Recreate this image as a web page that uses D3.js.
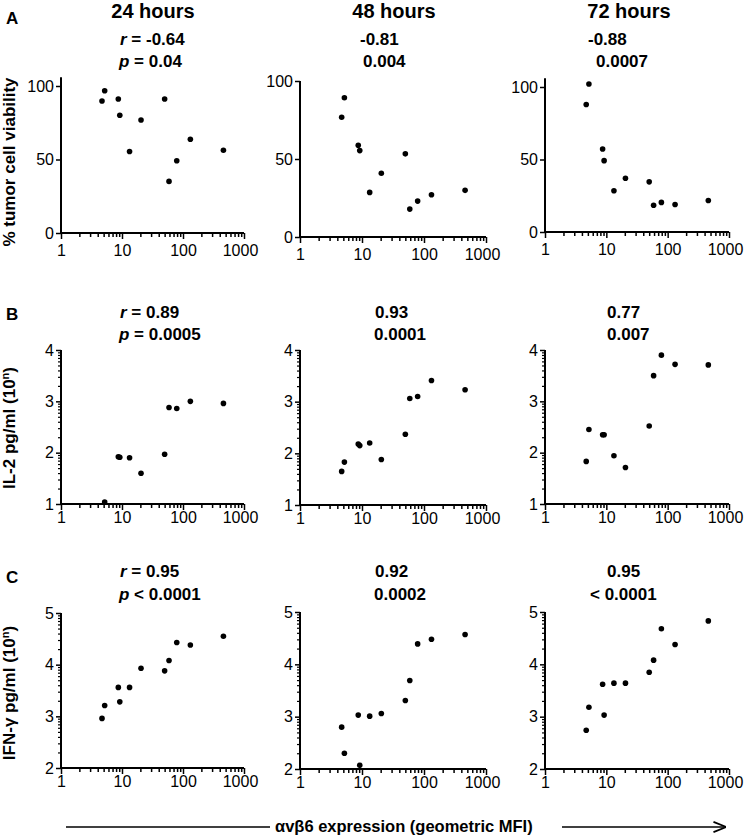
<!DOCTYPE html>
<html><head><meta charset="utf-8">
<script src="https://cdn.jsdelivr.net/npm/d3@7"></script>
<style>body{margin:0;background:#fff}svg{display:block}</style>
</head><body><svg id="chart" width="744" height="839"></svg>
<script>
// ---------- data ----------
const xValues = [4.7, 5.2, 8.7, 9.2, 13.3, 20.5, 50, 59, 79, 132, 460];
const timepoints = ["24 hours", "48 hours", "72 hours"];
const rowLetters = ["A", "B", "C"];

const viability24 = [89.8, 96.8, 91.2, 80.1, 55.4, 76.9, 91.2, 35.1, 49.1, 63.8, 56.3];
const viability48 = [76.8, 89.3, 58.8, 55.4, 28.6, 40.9, 53.3, 17.9, 23.0, 27.1, 29.9];
const viability72 = [87.9, 102.1, 57.2, 49.2, 28.4, 37.1, 34.6, 18.5, 20.4, 19.0, 21.7];
const il2_24 = [null, 1.04, 1.92, 1.91, 1.90, 1.60, 1.97, 2.88, 2.86, 3.00, 2.96];
const il2_48 = [1.65, 1.83, 2.18, 2.15, 2.20, 1.88, 2.37, 3.06, 3.10, 3.41, 3.23];
const il2_72 = [1.83, 2.45, 2.35, 2.35, 1.94, 1.71, 2.52, 3.50, 3.90, 3.72, 3.71];
const ifng24 = [2.96, 3.21, 3.56, 3.28, 3.56, 3.93, 3.88, 4.08, 4.43, 4.38, 4.55];
const ifng48 = [2.80, 2.30, 3.03, 2.07, 3.01, 3.06, 3.31, 3.69, 4.39, 4.48, 4.57];
const ifng72 = [2.74, 3.18, 3.62, 3.03, 3.64, 3.64, 3.85, 4.08, 4.68, 4.38, 4.83];

const rValues = [["-0.64", "-0.81", "-0.88"], ["0.89", "0.93", "0.77"], ["0.95", "0.92", "0.95"]];
const pValues = [["0.04", "0.004", "0.0007"], ["0.0005", "0.0001", "0.007"], ["0.0001", "0.0002", "0.0001"]];
const pSigns = [["=", "=", "="], ["=", "=", "="], ["<", "=", "<"]];

const xTicks = [1, 10, 100, 1000];
const yTicksA = [0, 50, 100];
const yTicksB = [1, 2, 3, 4];
const yTicksC = [2, 3, 4, 5];
const yTitles = ["% tumor cell viability", "IL-2 pg/ml (10", "IFN-\u03b3 pg/ml (10"];
const xTitle = "\u03b1v\u03b26 expression (geometric MFI)";

const seriesGrid = [
  [viability24, viability48, viability72],
  [il2_24, il2_48, il2_72],
  [ifng24, ifng48, ifng72]
];
const yTickGrid = [yTicksA, yTicksB, yTicksC];

// ---------- layout ----------
const colX0 = [61, 300, 545];
const colX1 = [244, 486, 729];
const yDomains = [[0, 100], [1, 4], [2, 5]];
const yRanges = [
  [[233, 86], [237, 81], [232, 87]],
  [[504, 350], [505, 350], [504, 350]],
  [[768, 613], [769, 612], [769, 612]]
];
const yAxisTop = [[106, 100, 106], [4, 4, 4], [5, 5, 5]];
const statX = [
  [[120, 119], [360, 363], [588, 596]],
  [[120, 119], [375, 374], [607, 607]],
  [[120, 119], [375, 374], [607, 590]]
];
const statY = [[45, 67], [318, 340], [577, 600]];
const letterY = [24, 320, 583];
const yTitleCY = [162, 428, 693];
const titleX = [153, 394, 629];
const xLabelOffset = [24, 20, 20];

const svg = d3.select("#chart");
svg.append("rect").attr("width", 744).attr("height", 839).attr("fill", "#fff");
const FONT = "'Liberation Sans', Arial, Helvetica, sans-serif";
svg.style("font-family", FONT);

// column titles
svg.selectAll("text.coltitle").data(timepoints).join("text")
  .attr("class", "coltitle")
  .attr("x", (d, i) => titleX[i]).attr("y", 18)
  .attr("text-anchor", "middle")
  .attr("font-size", 20).attr("font-weight", "bold")
  .text(d => d);

const minorX = [];
for (let e = 0; e < 3; e++) for (let k = 2; k <= 9; k++) minorX.push(k * Math.pow(10, e));

rowLetters.forEach((letter, r) => {
  svg.append("text").attr("x", 6).attr("y", letterY[r])
    .attr("font-size", 17).attr("font-weight", "bold").text(letter);

  // y title
  const yt = svg.append("text")
    .attr("transform", `translate(15,${yTitleCY[r]}) rotate(-90)`)
    .attr("text-anchor", "middle")
    .attr("font-size", 17).attr("font-weight", "bold");
  if (r === 0) {
    yt.text(yTitles[r]);
  } else {
    yt.append("tspan").text(yTitles[r]);
    yt.append("tspan").attr("font-size", 11).attr("dy", -6).text("n");
    yt.append("tspan").attr("dy", 6).text(")");
  }

  for (let c = 0; c < 3; c++) {
    const x = d3.scaleLog().domain([1, 1000]).range([colX0[c], colX1[c]]);
    const y = d3.scaleLinear().domain(yDomains[r]).range(yRanges[r][c]);
    const g = svg.append("g");
    const y0 = y(yDomains[r][0]);

    // x minor ticks
    const xMinor = g.append("g").attr("transform", `translate(0,${y0})`)
      .call(d3.axisBottom(x).tickValues(minorX).tickSize(4).tickFormat("").tickSizeOuter(0));
    xMinor.select(".domain").remove();
    // x major
    const xMajor = g.append("g").attr("transform", `translate(0,${y0})`)
      .call(d3.axisBottom(x).tickValues(xTicks).tickSize(6).tickSizeOuter(0)
        .tickFormat(d3.format("d")));
    xMajor.select(".domain").remove();
    xMajor.selectAll("text").attr("y", xLabelOffset[r] - 12).attr("dy", "0.71em")
      .attr("dx", d => d === 1000 ? -4 : 0)
      .attr("font-size", 16).attr("font-family", FONT).attr("fill", "#000");
    g.selectAll(".tick line").attr("stroke", "#000").attr("stroke-width", 1.5);

    // y minor ticks (log within each unit) for rows B/C
    if (r > 0) {
      const ym = [];
      for (let n = yDomains[r][0]; n < yDomains[r][1]; n++)
        for (let k = 2; k <= 9; k++) ym.push(n + Math.log10(k));
      const yMinor = g.append("g").attr("transform", `translate(${colX0[c]},0)`)
        .call(d3.axisLeft(y).tickValues(ym).tickSize(3).tickFormat("").tickSizeOuter(0));
      yMinor.select(".domain").remove();
      yMinor.selectAll("line").attr("stroke", "#000").attr("stroke-width", 1.2);
    }
    const yMajor = g.append("g").attr("transform", `translate(${colX0[c]},0)`)
      .call(d3.axisLeft(y).tickValues(yTickGrid[r]).tickSize(5).tickSizeOuter(0)
        .tickFormat(d3.format("d")));
    yMajor.select(".domain").remove();
    yMajor.selectAll("line").attr("stroke", "#000").attr("stroke-width", 1.5);
    yMajor.selectAll("text").attr("x", -7).attr("font-size", 16)
      .attr("font-family", FONT).attr("fill", "#000");

    // axis lines
    g.append("line").attr("x1", colX0[c]).attr("x2", colX0[c])
      .attr("y1", y0 + 1).attr("y2", y(yAxisTop[r][c]))
      .attr("stroke", "#000").attr("stroke-width", 2);
    g.append("line").attr("x1", colX0[c] - 1).attr("x2", colX1[c])
      .attr("y1", y0).attr("y2", y0)
      .attr("stroke", "#000").attr("stroke-width", 2);

    // points
    const pts = xValues.map((xv, i) => ({ x: xv, y: seriesGrid[r][c][i] }))
      .filter(d => d.y !== null);
    g.selectAll("circle").data(pts).join("circle")
      .attr("cx", d => x(d.x)).attr("cy", d => y(d.y)).attr("r", 2.8)
      .attr("fill", "#000");

    // stats
    const rt = svg.append("text").attr("x", statX[r][c][0]).attr("y", statY[r][0])
      .attr("font-size", 17).attr("font-weight", "bold");
    const pt = svg.append("text").attr("x", statX[r][c][1]).attr("y", statY[r][1])
      .attr("font-size", 17).attr("font-weight", "bold");
    if (c === 0) {
      rt.append("tspan").attr("font-style", "italic").text("r");
      rt.append("tspan").text(" = " + rValues[r][c]);
      pt.append("tspan").attr("font-style", "italic").text("p");
      pt.append("tspan").text(" " + pSigns[r][c] + " " + pValues[r][c]);
    } else {
      rt.text(rValues[r][c]);
      pt.text((pSigns[r][c] === "<" ? "< " : "") + pValues[r][c]);
    }
  }
});

// bottom x-title with arrow
svg.append("defs").append("marker").attr("id", "arrow")
  .attr("viewBox", "0 0 10 10").attr("refX", 9).attr("refY", 5)
  .attr("markerWidth", 8).attr("markerHeight", 8).attr("orient", "auto")
  .append("path").attr("d", "M0,1 L10,5 L0,9").attr("fill", "none")
  .attr("stroke", "#000").attr("stroke-width", 1.4);
svg.append("line").attr("x1", 66).attr("x2", 270).attr("y1", 827).attr("y2", 827)
  .attr("stroke", "#000").attr("stroke-width", 1.6);
svg.append("text").attr("x", 275).attr("y", 832).attr("font-size", 16.5)
  .attr("font-weight", "bold").text(xTitle);
svg.append("line").attr("x1", 562).attr("x2", 725).attr("y1", 827).attr("y2", 827)
  .attr("stroke", "#000").attr("stroke-width", 1.6).attr("marker-end", "url(#arrow)");
</script></body></html>
